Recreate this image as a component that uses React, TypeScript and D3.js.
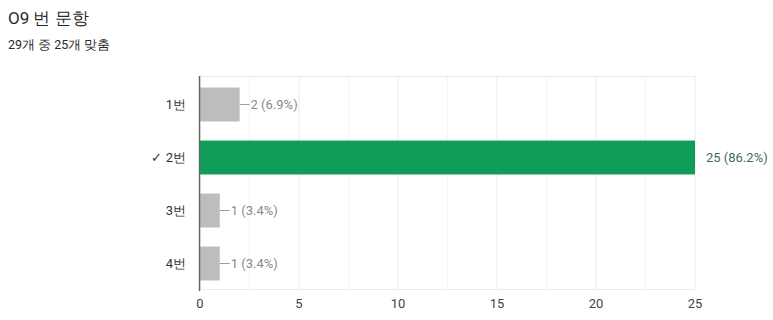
import React from "react";
import * as d3 from "d3";

const categories = ["1번", "✓ 2번", "3번", "4번"];
const counts = [2, 25, 1, 1];
const percents = ["6.9%", "86.2%", "3.4%", "3.4%"];
const correct = [false, true, false, false];
const xTicks = [0, 5, 10, 15, 20, 25];
const minorTicks = [2.5, 7.5, 12.5, 17.5, 22.5];
const title = "O9 번 문항";
const subtitle = "29개 중 25개 맞춤";

export default function App() {
  const W = 773, H = 320;
  const x = d3.scaleLinear().domain([0, 25]).range([200, 695]);
  const y = d3.scaleBand<string>().domain(categories).range([78, 290]).paddingInner(0.36).paddingOuter(0.18);
  const font = "Roboto, Arial, sans-serif";
  return (
    <svg width={W} height={H} style={{ position: "absolute", left: 0, top: 0, background: "#fff" }} fontFamily={font}>
      <text x={8} y={24} fontSize={17} fill="#2a2a2a">{title}</text>
      <text x={8} y={49} fontSize={12.5} fill="#2a2a2a">{subtitle}</text>
      {minorTicks.map((t) => (
        <line key={"m" + t} x1={x(t)} x2={x(t)} y1={76} y2={290} stroke="#f4f4f4" />
      ))}
      {xTicks.map((t) => (
        <line key={"g" + t} x1={x(t)} x2={x(t)} y1={76} y2={290} stroke="#ebebeb" />
      ))}
      <line x1={200} x2={695} y1={76.5} y2={76.5} stroke="#ebebeb" />
      <line x1={200} x2={695} y1={289.5} y2={289.5} stroke="#ebebeb" />
      {categories.map((c, i) => {
        const by = y(c)!;
        const bh = y.bandwidth();
        const cy = by + bh / 2;
        const bx = x(counts[i]);
        return (
          <g key={c}>
            <rect x={x(0)} y={by} width={bx - x(0)} height={bh} fill={correct[i] ? "#0f9d58" : "#bdbdbd"} />
            {correct[i] ? (
              <text x={bx + 11} y={cy} dy="0.35em" fontSize={13} fill="#3f6e55">
                {`${counts[i]} (${percents[i]})`}
              </text>
            ) : (
              <>
                <line x1={bx} x2={bx + 10} y1={cy} y2={cy} stroke="#9e9e9e" />
                <text x={bx + 11} y={cy} dy="0.35em" fontSize={13} fill="#8a8a8a">
                  {`${counts[i]} (${percents[i]})`}
                </text>
              </>
            )}
            <text x={186} y={cy} dy="0.35em" textAnchor="end" fontSize={13} fill="#333">{c}</text>
          </g>
        );
      })}
      <line x1={199.5} x2={199.5} y1={76} y2={291} stroke="#666" strokeWidth={1.5} />
      {xTicks.map((t) => (
        <text key={"t" + t} x={x(t)} y={308} textAnchor="middle" fontSize={13} fill="#444">{t}</text>
      ))}
    </svg>
  );
}
